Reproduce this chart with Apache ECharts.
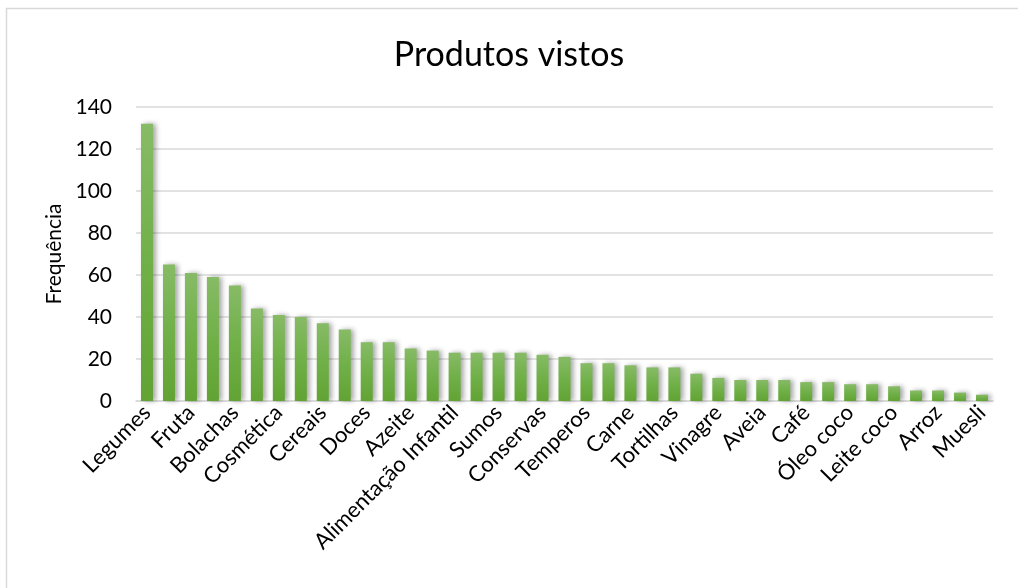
<!DOCTYPE html>
<html>
<head>
<meta charset="utf-8">
<script src="https://cdn.jsdelivr.net/npm/echarts@6/dist/echarts.min.js"></script>
<style>html,body{margin:0;padding:0;background:#fff;}#c{width:1018px;height:588px;}</style>
</head>
<body>
<div id="c"></div>
<script>
// Only every other category name is printed in the reference; the names of the
// unlabelled bars cannot be read, so they are left blank here.
const categories = [
  "Legumes", "", "Fruta", "", "Bolachas", "",
  "Cosmética", "", "Cereais", "", "Doces", "",
  "Azeite", "", "Alimentação Infantil", "", "Sumos", "",
  "Conservas", "", "Temperos", "", "Carne", "",
  "Tortilhas", "", "Vinagre", "", "Aveia", "",
  "Café", "", "Óleo coco", "", "Leite coco", "",
  "Arroz", "", "Muesli"
];
const frequencia = [
  132, 65, 61, 59, 55, 44, 41, 40, 37, 34, 28, 28, 25,
  24, 23, 23, 23, 23, 22, 21, 18, 18, 17, 16, 16, 13,
  11, 10, 10, 10, 9, 9, 8, 8, 7, 5, 5, 4, 3
];
const yTicks = { min: 0, max: 140, interval: 20 };

const font = "Lato, 'Open Sans', sans-serif";
const chart = echarts.init(document.getElementById('c'), null, { renderer: 'canvas' });
chart.setOption({
  animation: false,
  backgroundColor: '#ffffff',
  graphic: [{
    type: 'rect',
    shape: { x: 6.5, y: 8.5, width: 1200, height: 800 },
    style: { fill: 'none', stroke: '#d9d9d9', lineWidth: 1.5 },
    silent: true
  }],
  title: {
    text: 'Produtos vistos',
    left: 'center',
    top: 33,
    textStyle: { fontFamily: font, fontSize: 34, fontWeight: 'normal', color: '#000' }
  },
  grid: { left: 136, right: 25, top: 107, bottom: 187 },
  xAxis: {
    type: 'category',
    data: categories,
    axisTick: { show: false },
    axisLine: { lineStyle: { color: '#d9d9d9', width: 1.5 } },
    axisLabel: {
      interval: 1,
      rotate: 45,
      fontFamily: font,
      fontSize: 22,
      color: '#000',
      margin: 8
    }
  },
  yAxis: {
    type: 'value',
    min: yTicks.min,
    max: yTicks.max,
    interval: yTicks.interval,
    name: 'Frequência',
    nameLocation: 'middle',
    nameGap: 68,
    nameTextStyle: { fontFamily: font, fontSize: 21, color: '#000' },
    axisLine: { show: false },
    axisTick: { show: false },
    axisLabel: { fontFamily: font, fontSize: 21, color: '#000', margin: 24 },
    splitLine: { lineStyle: { color: '#d9d9d9', width: 1.5 } }
  },
  series: [{
    type: 'bar',
    data: frequencia,
    barWidth: 12,
    itemStyle: {
      color: new echarts.graphic.LinearGradient(0, 0, 0, 1, [
        { offset: 0, color: '#87bb66' },
        { offset: 0.5, color: '#70b048' },
        { offset: 1, color: '#62a334' }
      ]),
      shadowColor: 'rgba(0,0,0,0.35)',
      shadowBlur: 5,
      shadowOffsetX: 3,
      shadowOffsetY: 0
    }
  }]
});
</script>
</body>
</html>
